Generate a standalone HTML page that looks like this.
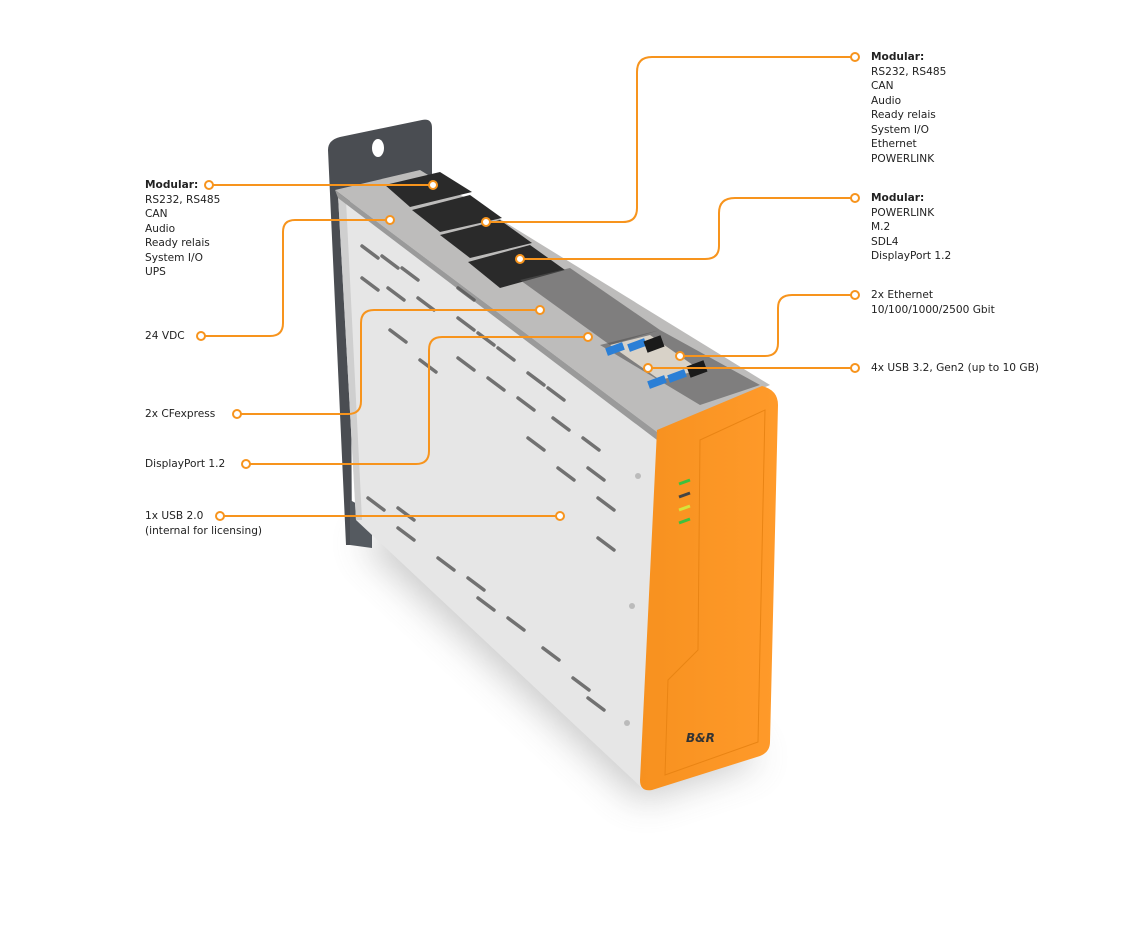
<!DOCTYPE html>
<html><head><meta charset="utf-8"><style>
html,body{margin:0;padding:0;background:#fff}
.t{position:absolute;font-family:"DejaVu Sans","Liberation Sans",sans-serif;font-size:10.6px;line-height:14.5px;color:#222;white-space:nowrap}
b{font-weight:bold}
</style></head><body>
<div style="position:relative;width:1140px;height:946px;overflow:hidden">
<svg width="1140" height="946" style="position:absolute;left:0;top:0">
<defs>
<filter id="bl" x="-50%" y="-50%" width="200%" height="200%"><feGaussianBlur stdDeviation="18"/></filter>
<linearGradient id="og" x1="0" x2="1"><stop offset="0" stop-color="#f7911f"/><stop offset="1" stop-color="#ff9a2a"/></linearGradient>
</defs>
<polygon points="360,540 640,800 760,760 700,700 420,520" fill="#888" opacity="0.45" filter="url(#bl)"/>
<path d="M328,150 Q328,140 340,137 L422,120 Q432,118 432,128 L432,180 L350,200 L352,545 L346,545 Z" fill="#4a4d52"/>
<ellipse cx="378" cy="148" rx="6" ry="9" fill="#fff"/>
<polygon points="350,500 372,512 372,548 350,545" fill="#555a60"/>
<polygon points="338,195 657,432 642,788 356,520" fill="#e6e6e6"/>
<polygon points="338,195 346,200 362,520 356,520" fill="#cfcfcf"/>
<polygon points="335,190 420,170 770,385 657,432" fill="#bdbcbb"/>
<polygon points="335,190 657,432 657,440 338,198" fill="#9a9a9a"/>
<polygon points="385,185 440,172 472,192 410,207" fill="#2a2a2a"/>
<polygon points="412,210 470,195 502,218 440,232" fill="#2a2a2a"/>
<polygon points="440,235 500,220 532,243 470,258" fill="#2a2a2a"/>
<polygon points="468,262 530,245 565,270 500,288" fill="#2a2a2a"/>
<polygon points="520,280 570,268 660,330 610,345" fill="#555" opacity="0.6"/>
<polygon points="600,345 660,330 760,385 700,405" fill="#555" opacity="0.6"/>
<polygon points="610,345 650,335 700,370 660,380" fill="#d8d2c8"/>
<rect x="606" y="345" width="18" height="8" fill="#2b7fd6" transform="rotate(-20 615 349)"/>
<rect x="628" y="341" width="18" height="8" fill="#2b7fd6" transform="rotate(-20 637 345)"/>
<rect x="648" y="378" width="18" height="8" fill="#2b7fd6" transform="rotate(-20 657 382)"/>
<rect x="668" y="372" width="18" height="8" fill="#2b7fd6" transform="rotate(-20 677 376)"/>
<rect x="645" y="338" width="18" height="12" fill="#1a1a1a" transform="rotate(-20 654 344)"/>
<rect x="688" y="363" width="18" height="12" fill="#1a1a1a" transform="rotate(-20 697 369)"/>
<g stroke="#555" stroke-width="3.5" stroke-linecap="round" opacity="0.8">
<path d="M362,246l16,12M382,256l16,12M402,268l16,12M362,278l16,12M388,288l16,12M418,298l16,12M458,318l16,12M478,333l16,12M498,348l16,12M528,373l16,12M548,388l16,12M458,358l16,12M488,378l16,12M518,398l16,12M553,418l16,12M583,438l16,12M588,468l16,12M598,498l16,12M598,538l16,12M558,468l16,12M528,438l16,12M368,498l16,12M398,508l16,12M398,528l16,12M438,558l16,12M468,578l16,12M478,598l16,12M508,618l16,12M543,648l16,12M573,678l16,12M588,698l16,12M458,288l16,12M420,360l16,12M390,330l16,12"/>
</g>
<circle cx="632" cy="606" r="3" fill="#bbb"/><circle cx="627" cy="723" r="3" fill="#bbb"/><circle cx="638" cy="476" r="3" fill="#bbb"/>
<path d="M657,430 L762,386 Q778,390 778,405 L770,742 Q770,752 760,756 L652,790 Q640,792 640,780 Z" fill="url(#og)"/>
<path d="M700,440 L765,410 L758,742 L665,775 L668,680 L698,650 Z" fill="none" stroke="#e98414" stroke-width="1"/>
<g stroke-width="3"><line x1="679" y1="484" x2="690" y2="480" stroke="#3ec13e"/><line x1="679" y1="497" x2="690" y2="493" stroke="#444"/><line x1="679" y1="510" x2="690" y2="506" stroke="#d6e33a"/><line x1="679" y1="523" x2="690" y2="519" stroke="#3ec13e"/></g>
<text x="686" y="742" font-family="DejaVu Sans,sans-serif" font-size="12" font-weight="bold" font-style="italic" fill="#333">B&amp;R</text>
<g fill="none" stroke="#f7941d" stroke-width="2">
<path d="M213,185H429"/>
<path d="M205,336H270Q283,336 283,323V232Q283,220 295,220H386"/>
<path d="M851,57H652Q637,57 637,72V208Q637,222 623,222H490"/>
<path d="M851,198H735Q719,198 719,213V246Q719,259 705,259H524"/>
<path d="M851,295H792Q778,295 778,308V343Q778,356 765,356H684"/>
<path d="M851,368H652"/>
<path d="M241,414H348Q361,414 361,401V323Q361,310 374,310H536"/>
<path d="M250,464H416Q429,464 429,451V350Q429,337 442,337H584"/>
<path d="M224,516H556"/>
</g>
<g fill="#fff" stroke="#f7941d" stroke-width="2">
<circle cx="209" cy="185" r="4"/><circle cx="433" cy="185" r="4"/>
<circle cx="201" cy="336" r="4"/><circle cx="390" cy="220" r="4"/>
<circle cx="855" cy="57" r="4"/><circle cx="486" cy="222" r="4"/>
<circle cx="855" cy="198" r="4"/><circle cx="520" cy="259" r="4"/>
<circle cx="855" cy="295" r="4"/><circle cx="680" cy="356" r="4"/>
<circle cx="855" cy="368" r="4"/><circle cx="648" cy="368" r="4"/>
<circle cx="237" cy="414" r="4"/><circle cx="540" cy="310" r="4"/>
<circle cx="246" cy="464" r="4"/><circle cx="588" cy="337" r="4"/>
<circle cx="220" cy="516" r="4"/><circle cx="560" cy="516" r="4"/>
</g>
</svg>
<div class="t" style="left:145px;top:178px"><b>Modular:</b><br>RS232, RS485<br>CAN<br>Audio<br>Ready relais<br>System I/O<br>UPS</div>
<div class="t" style="left:145px;top:329px">24 VDC</div>
<div class="t" style="left:145px;top:407px">2x CFexpress</div>
<div class="t" style="left:145px;top:457px">DisplayPort 1.2</div>
<div class="t" style="left:145px;top:509px">1x USB 2.0<br>(internal for licensing)</div>
<div class="t" style="left:871px;top:50px"><b>Modular:</b><br>RS232, RS485<br>CAN<br>Audio<br>Ready relais<br>System I/O<br>Ethernet<br>POWERLINK</div>
<div class="t" style="left:871px;top:191px"><b>Modular:</b><br>POWERLINK<br>M.2<br>SDL4<br>DisplayPort 1.2</div>
<div class="t" style="left:871px;top:288px">2x Ethernet<br>10/100/1000/2500 Gbit</div>
<div class="t" style="left:871px;top:361px">4x USB 3.2, Gen2 (up to 10 GB)</div>
</div>
</body></html>
